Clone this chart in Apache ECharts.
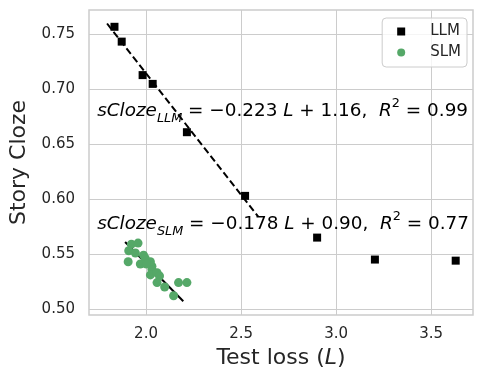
<!DOCTYPE html>
<html>
<head>
<meta charset="utf-8">
<script src="https://cdn.jsdelivr.net/npm/echarts@6/dist/echarts.min.js"></script>
<style>
  html, body { margin: 0; padding: 0; background: #fff; }
  #main { width: 484px; height: 384px; }
</style>
</head>
<body>
<div id="main"></div>
<script>
// data
var llmLoss  = [1.834, 1.872, 1.982, 2.035, 2.215, 2.521, 2.900, 3.204, 3.629];
var llmCloze = [0.757, 0.7435, 0.713, 0.705, 0.661, 0.603, 0.565, 0.545, 0.544];

var slmLoss  = [1.923, 1.958, 1.909, 1.944, 1.906, 1.987, 1.996, 1.970, 2.023, 2.031,
                2.031, 2.023, 2.058, 2.071, 2.058, 2.098, 2.145, 2.171, 2.215, 2.002];
var slmCloze = [0.559, 0.560, 0.553, 0.551, 0.543, 0.549, 0.546, 0.541, 0.543, 0.539,
                0.536, 0.531, 0.533, 0.530, 0.524, 0.520, 0.512, 0.524, 0.524, 0.541];

// fitted lines (end points)
var llmFitX = [1.795, 2.59];
var llmFitY = [0.760, 0.584];
var slmFitX = [1.89, 2.196];
var slmFitY = [0.561, 0.507];

var xTicks = [2.0, 2.5, 3.0, 3.5];
var yTicks = [0.50, 0.55, 0.60, 0.65, 0.70, 0.75];

function pairs(xs, ys) {
  return xs.map(function (x, i) { return [x, ys[i]]; });
}

var textColor = '#262626';
var gridColor = '#cccccc';

var myChart = echarts.init(document.getElementById('main'));

var option = {
  backgroundColor: '#fff',
  animation: false,
  textStyle: { fontFamily: 'DejaVu Sans' },
  grid: {
    left: 89, right: 11, top: 10, bottom: 69,
    show: true, borderColor: gridColor, borderWidth: 1.5, backgroundColor: '#fff'
  },
  legend: {
    data: [
      { name: 'LLM', icon: 'rect' },
      { name: 'SLM', icon: 'circle' }
    ],
    orient: 'vertical',
    right: 17, top: 18,
    itemWidth: 8, itemHeight: 8, itemGap: 6,
    padding: [6, 6, 7, 15],
    borderColor: gridColor, borderWidth: 1, borderRadius: 4,
    backgroundColor: 'rgba(255,255,255,0.8)',
    textStyle: { fontSize: 15, lineHeight: 15, color: textColor, padding: [0, 0, 0, 20] }
  },
  xAxis: {
    type: 'value',
    min: 1.70, max: 3.72,
    name: 'Test loss ({i|L})',
    nameLocation: 'middle',
    nameGap: 32,
    nameTextStyle: {
      fontSize: 22, color: textColor,
      rich: { i: { fontSize: 22, fontStyle: 'italic', color: textColor } }
    },
    axisLine: { show: false },
    axisTick: { show: false, customValues: xTicks },
    axisLabel: {
      customValues: xTicks, fontSize: 15, color: textColor, margin: 12,
      formatter: function (v) { return v.toFixed(1); }
    },
    splitLine: { show: true, lineStyle: { color: gridColor, width: 1 } }
  },
  yAxis: {
    type: 'value',
    min: 0.4945, max: 0.7723,
    name: 'Story Cloze',
    nameLocation: 'middle',
    nameGap: 52,
    nameTextStyle: { fontSize: 22, color: textColor },
    axisLine: { show: false },
    axisTick: { show: false, customValues: yTicks },
    axisLabel: {
      customValues: yTicks, fontSize: 15, color: textColor, margin: 14,
      formatter: function (v) { return v.toFixed(2); }
    },
    splitLine: { show: true, lineStyle: { color: gridColor, width: 1 } }
  },
  series: [
    {
      name: 'LLM', type: 'scatter', symbol: 'rect', symbolSize: 8,
      itemStyle: { color: '#000', opacity: 1 }, data: pairs(llmLoss, llmCloze), z: 3
    },
    {
      name: 'SLM', type: 'scatter', symbol: 'circle', symbolSize: 9,
      itemStyle: { color: '#55a868', opacity: 1 }, data: pairs(slmLoss, slmCloze), z: 3
    },
    {
      name: 'LLM fit', type: 'line', symbol: 'none', data: pairs(llmFitX, llmFitY),
      lineStyle: { color: '#000', width: 2, type: [7, 3.5] }, z: 4
    },
    {
      name: 'SLM fit', type: 'line', symbol: 'none', data: pairs(slmFitX, slmFitY),
      lineStyle: { color: '#000', width: 2 }, z: 2
    }
  ]
};

myChart.setOption(option);

// fit equations
var eqSize = 18.4;
var subSize = 12.8;
var eqRich = {
  it: { fontSize: eqSize, fontStyle: 'italic', color: textColor, lineHeight: 28, fontFamily: 'DejaVu Sans' },
  sub: { fontSize: subSize, fontStyle: 'italic', color: textColor, lineHeight: 28, verticalAlign: 'bottom', fontFamily: 'DejaVu Sans' },
  sup: { fontSize: subSize, color: textColor, lineHeight: 28, verticalAlign: 'top', fontFamily: 'DejaVu Sans' },
  n: { fontSize: eqSize, color: textColor, lineHeight: 28, fontFamily: 'DejaVu Sans' }
};
function eqText(name, slope, icpt, r2) {
  return '{it|sCloze}{sub|' + name + '}{n| = \u2212' + slope + ' }{it|L}{n| + ' + icpt +
    ',  }{it|R}{sup|2}{n| = ' + r2 + '}';
}
var p1 = myChart.convertToPixel({ gridIndex: 0 }, [1.743, 0.6804]);
var p2 = myChart.convertToPixel({ gridIndex: 0 }, [1.743, 0.5776]);
myChart.setOption({
  graphic: [
    { type: 'text', left: p1[0], top: p1[1] - 14, z: 10,
      style: { text: eqText('LLM', '0.223', '1.16', '0.99'), rich: eqRich } },
    { type: 'text', left: p2[0], top: p2[1] - 14, z: 10,
      style: { text: eqText('SLM', '0.178', '0.90', '0.77'), rich: eqRich } }
  ]
});
</script>
</body>
</html>
